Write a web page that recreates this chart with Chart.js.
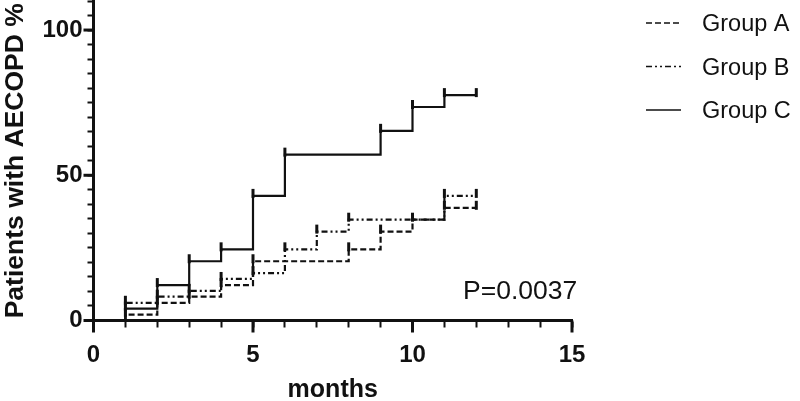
<!DOCTYPE html>
<html><head><meta charset="utf-8">
<script src="https://cdn.jsdelivr.net/npm/chart.js@4/dist/chart.umd.min.js"></script>
<style>html,body{margin:0;padding:0;background:#fff}canvas{display:block}</style>
</head><body>
<canvas id="c" width="800" height="401"></canvas>
<script>
// ---- data ----
const months   = [1, 2, 3, 4, 5, 6, 7, 8, 9, 10, 11];
const endMonth = 12;
const groupNames = ['Group A', 'Group B', 'Group C'];
const groupA = [2.0, 6.1, 8.2, 12.2, 20.4, 20.4, 20.4, 24.5, 30.6, 34.7, 38.8];
const groupB = [6.1, 8.2, 10.2, 14.3, 16.3, 24.5, 30.6, 34.7, 34.7, 34.7, 42.9];
const groupC = [4.1, 12.2, 20.4, 24.5, 42.9, 57.1, 57.1, 57.1, 65.3, 73.5, 77.6];
const xTickLabels = [0, 5, 10, 15];
const yTickLabels = [0, 50, 100];
const pValueText = 'P=0.0037';
const xTitle = 'months';
const yTitle = 'Patients with AECOPD %';

const FONT = "'Liberation Sans', Arial, Helvetica, sans-serif";
const INK = '#111';

function stepData(vals) {
  const pts = [{x: months[0], y: 0}];
  months.forEach((m, i) => pts.push({x: m, y: vals[i]}));
  pts.push({x: endMonth, y: vals[vals.length - 1]});
  return pts;
}

const dashes = [[6, 3], [6, 3, 2, 3, 2, 3], []];
const series = [groupA, groupB, groupC];

const datasets = series.map((vals, i) => ({
  label: groupNames[i],
  data: stepData(vals),
  stepped: true,
  borderColor: INK,
  borderWidth: 2.2,
  borderDash: dashes[i],
  pointRadius: 0,
  fill: false
}));

// censor-style tick marks at each step and at the end
const censorPlugin = {
  id: 'censor',
  afterDatasetsDraw(chart) {
    const ctx = chart.ctx;
    ctx.save();
    ctx.strokeStyle = INK;
    ctx.lineWidth = 3;
    ctx.setLineDash([]);
    chart.data.datasets.forEach((ds, i) => {
      const meta = chart.getDatasetMeta(i);
      const d = ds.data;
      for (let j = 1; j < d.length; j++) {
        if (j === d.length - 1 || d[j].y !== d[j - 1].y) {
          const el = meta.data[j];
          ctx.beginPath();
          ctx.moveTo(el.x, el.y - 7);
          ctx.lineTo(el.x, el.y + 2);
          ctx.stroke();
        }
      }
    });
    ctx.restore();
  }
};

// longer major ticks, legend and p-value text
const decorPlugin = {
  id: 'decor',
  afterDraw(chart) {
    const ctx = chart.ctx;
    const xs = chart.scales.x, ys = chart.scales.y;
    ctx.save();
    ctx.strokeStyle = INK;
    ctx.lineWidth = 3;
    xTickLabels.forEach(v => {
      const px = xs.getPixelForValue(v);
      ctx.beginPath(); ctx.moveTo(px, xs.top); ctx.lineTo(px, xs.top + 12); ctx.stroke();
    });
    yTickLabels.forEach(v => {
      const py = ys.getPixelForValue(v);
      ctx.beginPath(); ctx.moveTo(ys.right - 10, py); ctx.lineTo(ys.right, py); ctx.stroke();
    });
    // legend
    ctx.lineWidth = 1.6;
    ctx.fillStyle = INK;
    ctx.font = '23.5px ' + FONT;
    ctx.textBaseline = 'middle';
    ctx.textAlign = 'left';
    chart.data.datasets.forEach((ds, i) => {
      const cy = 25 + i * 43.5;
      ctx.setLineDash(ds.borderDash || []);
      ctx.beginPath(); ctx.moveTo(646, cy - 2); ctx.lineTo(681, cy - 2); ctx.stroke();
      ctx.setLineDash([]);
      ctx.fillText(ds.label, 702, cy);
    });
    // p value
    ctx.font = '26.5px ' + FONT;
    ctx.fillText(pValueText, 463, 292);
    ctx.restore();
  }
};

new Chart(document.getElementById('c'), {
  type: 'line',
  data: { datasets },
  plugins: [censorPlugin, decorPlugin],
  options: {
    responsive: false,
    animation: false,
    devicePixelRatio: 1,
    layout: { padding: { top: 1, right: 228, left: 0, bottom: 0 } },
    plugins: { legend: { display: false }, tooltip: { enabled: false } },
    scales: {
      x: {
        type: 'linear', min: 0, max: 15,
        afterFit(s) { s.height = 80.5; s.paddingLeft = 0; s.paddingRight = 0; },
        border: { color: INK, width: 3 },
        grid: { drawOnChartArea: false, tickLength: 7, tickWidth: 2, tickColor: INK },
        ticks: {
          stepSize: 1, autoSkip: false, maxRotation: 0, color: INK, padding: 13,
          font: { family: FONT, size: 24, weight: 'bold' },
          callback: v => xTickLabels.includes(v) ? String(v) : ''
        },
        title: { display: true, text: xTitle, color: INK, padding: { top: 0, bottom: 0 },
                 font: { family: FONT, size: 25, weight: 'bold', lineHeight: 0.9 } }
      },
      y: {
        type: 'linear', min: 0, max: 110,
        afterFit(s) { s.width = 93.5; s.paddingTop = 0; s.paddingBottom = 0; },
        border: { color: INK, width: 3 },
        grid: { drawOnChartArea: false, tickLength: 6, tickWidth: 2, tickColor: INK },
        ticks: {
          stepSize: 5, autoSkip: false, color: INK, padding: 5,
          font: { family: FONT, size: 24, weight: 'bold' },
          callback: v => yTickLabels.includes(v) ? String(v) : ''
        },
        title: { display: true, text: yTitle, color: INK, padding: { top: 0, bottom: 0 },
                 font: { family: FONT, size: 26.5, weight: 'bold', lineHeight: 1.2 } }
      }
    }
  }
});
</script>
</body></html>
